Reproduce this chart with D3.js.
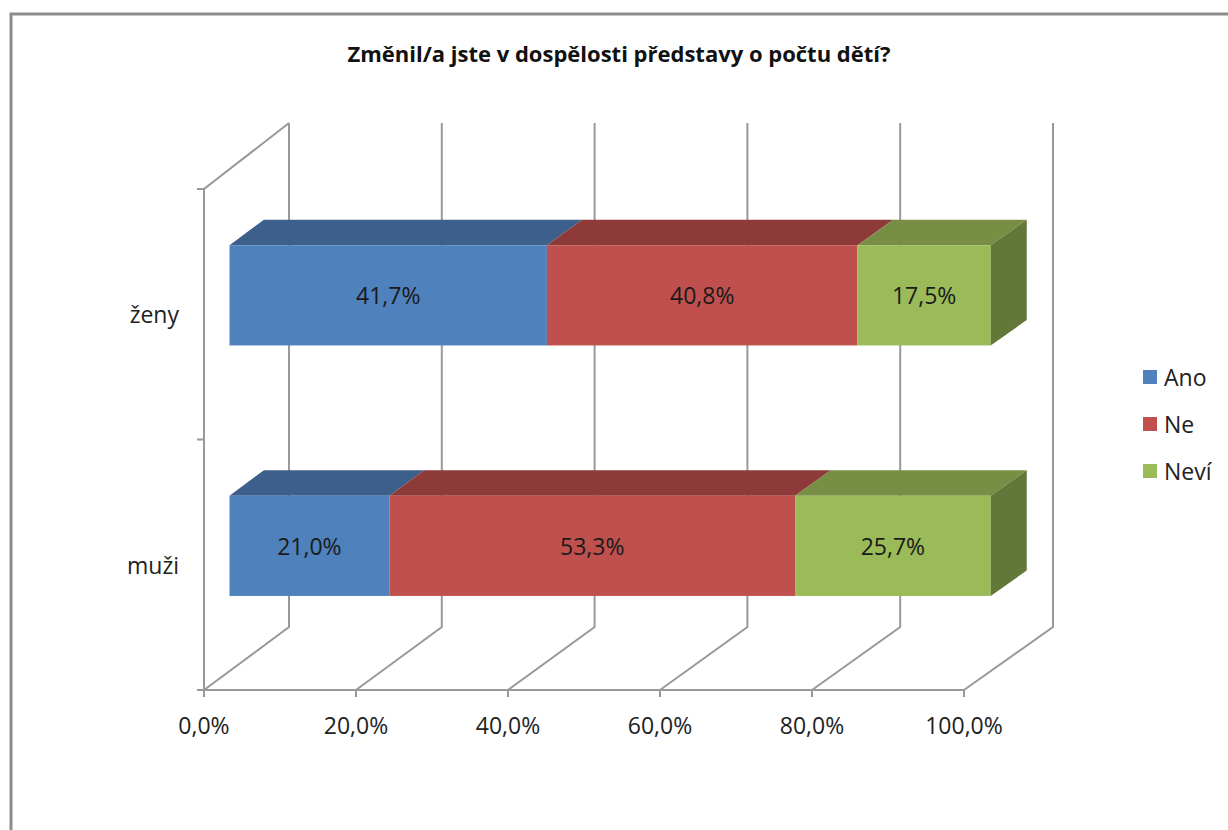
<!DOCTYPE html>
<html><head><meta charset="utf-8">
<script src="https://cdn.jsdelivr.net/npm/d3@7"></script>
<style>
html,body{margin:0;padding:0;background:#fff;}
svg{display:block;font-family:"Open Sans",sans-serif;}
</style></head>
<body>
<svg id="c" width="1228" height="830"></svg>
<script>
const title = "Změnil/a jste v dospělosti představy o počtu dětí?";
const categories = ["ženy", "muži"];
const seriesNames = ["Ano", "Ne", "Neví"];
const ano = [41.7, 21.0];
const ne = [40.8, 53.3];
const nevi = [17.5, 25.7];
const tickValues = [0, 20, 40, 60, 80, 100];
const tickLabels = ["0,0%", "20,0%", "40,0%", "60,0%", "80,0%", "100,0%"];
const labelText = [["41,7%", "21,0%"], ["40,8%", "53,3%"], ["17,5%", "25,7%"]];

const colors = {
  front: ["#4F81BD", "#C0504D", "#9BBB59"],
  top: ["#3C5F8B", "#8E3A38", "#778E44"],
  side: ["#2F4B6E", "#6F2D2C", "#637738"]
};

const svg = d3.select("#c");
// frame
svg.append("rect").attr("x", 11).attr("y", 14).attr("width", 1240).attr("height", 840)
  .attr("fill", "#fff").attr("stroke", "#8c8c8c").attr("stroke-width", 3);

// 3D projection parameters
const DX = 85, DY = -63, DW = 4;
const x = d3.scaleLinear().domain([0, 100]).range([204, 964]);
const y = d3.scaleBand().domain(categories).range([189, 690]).paddingInner(0.6).paddingOuter(0.3);
const yTop = 189, yBot = 690;
function px(v, f) { return x(0) + f * DX + (x(v) - x(0)) * (1 + f * DW / 760); }
function py(yy, f) { return yy + f * DY; }

const grid = svg.append("g").attr("stroke", "#999").attr("stroke-width", 2).attr("fill", "none");
tickValues.forEach(v => {
  grid.append("path").attr("d", d3.line()([[px(v, 0), py(yBot, 0)], [px(v, 1), py(yBot, 1)], [px(v, 1), py(yTop, 1) - 3]]));
});
grid.append("path").attr("d", d3.line()([[px(0, 1), py(yTop, 1) - 3], [px(0, 0), py(yTop, 0)], [px(0, 0), py(yBot, 0)], [px(100, 0), py(yBot, 0)]]));
[yTop, (yTop + yBot) / 2, yBot].forEach(t => {
  grid.append("line").attr("x1", px(0, 0) - 7).attr("x2", px(0, 0)).attr("y1", t).attr("y2", t);
});
tickValues.forEach(v => {
  grid.append("line").attr("x1", px(v, 0)).attr("x2", px(v, 0)).attr("y1", yBot).attr("y2", yBot + 7);
});

// axis labels
svg.append("g").selectAll("text").data(tickValues).join("text")
  .attr("x", d => x(d)).attr("y", 734).attr("text-anchor", "middle")
  .attr("font-size", 23).attr("fill", "#222").text((d, i) => tickLabels[i]);
svg.append("g").selectAll("text").data(categories).join("text")
  .attr("x", 179).attr("y", d => y(d) + y.bandwidth() / 2 + 9).attr("text-anchor", "end")
  .attr("font-size", 23).attr("fill", "#222").text(d => d);

// bars
const f0 = 0.3, fd = 0.405;
const series = [ano, ne, nevi];
categories.forEach((cat, ci) => {
  let cum = 0;
  const yf = y(cat) + f0 * DY, h = y.bandwidth();
  const g = svg.append("g");
  series.forEach((s, si) => {
    const v0 = cum, v1 = cum + s[ci];
    cum = v1;
    const xa = px(v0, f0), xb = px(v1, f0);
    const xa2 = px(v0, f0 + fd), xb2 = px(v1, f0 + fd);
    const yb = py(yf, fd) - yf;
    g.append("path").attr("fill", colors.top[si])
      .attr("d", d3.line()([[xa, yf], [xb, yf], [xb2, yf + yb], [xa2, yf + yb]]) + "Z");
    g.append("rect").attr("x", xa).attr("y", yf).attr("width", xb - xa).attr("height", h).attr("fill", colors.front[si]);
    if (si === series.length - 1) {
      g.append("path").attr("fill", colors.side[si])
        .attr("d", d3.line()([[xb, yf], [xb2, yf + yb], [xb2, yf + yb + h], [xb, yf + h]]) + "Z");
    }
    g.append("text").attr("x", (xa + xb) / 2).attr("y", yf + h / 2 + 9).attr("text-anchor", "middle")
      .attr("font-size", 23).attr("fill", "#1a1a1a").text(labelText[si][ci]);
  });
});

// legend
const lg = svg.append("g");
seriesNames.forEach((n, i) => {
  lg.append("rect").attr("x", 1143).attr("y", 370 + i * 47).attr("width", 14).attr("height", 14).attr("fill", colors.front[i]);
  lg.append("text").attr("x", 1164).attr("y", 386 + i * 47).attr("font-size", 23).attr("fill", "#222").text(n);
});

// title
svg.append("text").attr("x", 619).attr("y", 62).attr("text-anchor", "middle")
  .attr("font-size", 22).attr("font-weight", "bold").attr("fill", "#111").text(title);
</script>
</body></html>
